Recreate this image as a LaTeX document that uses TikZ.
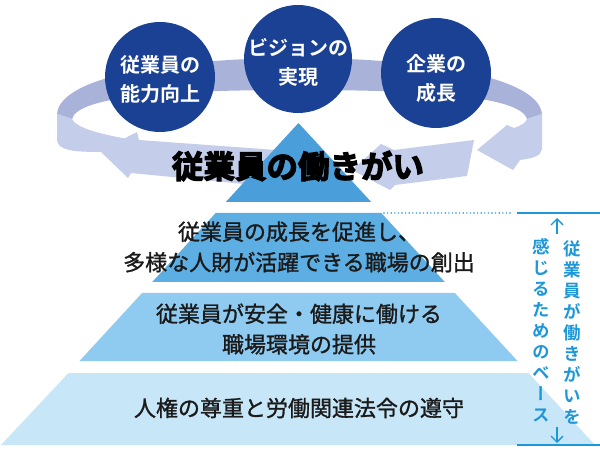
\documentclass[tikz,border=0pt]{standalone}
\usepackage{fontspec}
\setmainfont{Noto Sans CJK JP}
\newfontfamily\jp{Noto Sans CJK JP}[FakeBold=1.2]
\newfontfamily\jpb{Noto Sans CJK JP Bold}
\newfontfamily\jpheavy{Noto Sans CJK JP Bold}[FakeBold=4]
\newfontfamily\jpv{Noto Sans CJK JP Bold}[RawFeature=+vert]
\usetikzlibrary{arrows.meta}
\definecolor{circ}{HTML}{1B4194}
\definecolor{ringB}{HTML}{A9B3D9}
\definecolor{ringF}{HTML}{C4CEEB}
\definecolor{pyr1}{HTML}{4A9FDA}
\definecolor{pyr2}{HTML}{5CAEE3}
\definecolor{pyr3}{HTML}{8FCBF0}
\definecolor{pyr4}{HTML}{C7E6F8}
\definecolor{cyanT}{HTML}{1E97D9}
\definecolor{ink}{HTML}{1A1A1A}
\tikzset{
  ringback/.style={fill=ringB},
  ringfront/.style={fill=ringF},
  bubble/.style={circle, fill=circ, inner sep=0pt, minimum size=110pt},
  bubbletext/.style={text=white, font=\jpb\fontsize{20}{29}\selectfont, align=center, inner sep=0pt},
  tiertext/.style={text=ink, font=\jp\fontsize{22}{30.5}\selectfont, align=center, inner sep=0pt},
  vtext/.style={text=cyanT, font=\jpv\fontsize{17.5}{21}\selectfont, align=center, inner sep=0pt},
  guide/.style={draw=cyanT, line width=1.3pt},
}
\begin{document}
\begin{tikzpicture}[x=1pt,y=-1pt]
\useasboundingbox[fill=white] (0,0) rectangle (600,449);
% ring: back band
\fill[ringback] (57,114) .. controls (60,75) and (180,58) .. (298,58) .. controls (416,58) and (538,75) .. (542,114) -- (527,119) .. controls (520,95) and (416,90) .. (298,90) .. controls (180,90) and (78,95) .. (72,119) -- cycle;
% ring: left front strip
\fill[ringfront] (57,114) -- (57,140) .. controls (58,149) and (68,152) .. (100,152) -- (128,139) .. controls (100,134) and (76,128) .. (72,119) -- cycle;
% ring: right end with arrowhead
\fill[ringfront] (542,114) -- (542,149) .. controls (541,156) and (534,158) .. (520,160) -- (513,170) -- (477,150) -- (507,125) -- (514,128) .. controls (520,126) and (526,123) .. (527,119) -- cycle;
% circles
\node[bubble] (c1) at (160,77) {};
\node[bubble, minimum size=108pt] (c2) at (298,59) {};
\node[bubble] (c3) at (436,73) {};
\node[bubbletext] (t1) at (160,79) {従業員の\\能力向上};
\node[bubbletext] (t2) at (298,62) {ビジョンの\\実現};
\node[bubbletext] (t3) at (436,78) {企業の\\成長};
% ring: front arrows
\fill[ringfront] (474,140) -- (394,150) -- (381,144) -- (352,170) -- (390,190) -- (395,185) -- (467,176) -- cycle;
\fill[ringfront] (276,150) -- (139,140) -- (137,132) -- (100,151) -- (128,178) -- (131,173) -- (244,184) -- cycle;
% pyramid
\fill[pyr1] (298.5,123) -- (225.8,202) -- (371.2,202) -- cycle;
\fill[pyr2] (215.7,213) -- (381.3,213) -- (444.8,282) -- (152.2,282) -- cycle;
\fill[pyr3] (142.1,293) -- (454.9,293) -- (517.5,361) -- (79.5,361) -- cycle;
\fill[pyr4] (68.5,373) -- (528.5,373) -- (595,445) -- (1,445) -- cycle;
% headline
\node[text=black, font=\jpheavy\fontsize{31.5}{32}\selectfont, inner sep=0pt] (head) at (298,166) {従業員の働きがい};
% tier texts
\node[tiertext] (l2) at (299,247) {従業員の成長を促進し、\\多様な人財が活躍できる職場の創出};
\node[tiertext] (l3) at (299,329) {従業員が安全・健康に働ける\\職場環境の提供};
\node[tiertext] (l4) at (299,408) {人権の尊重と労働関連法令の遵守};
% guides
\coordinate (d1) at (384,213);
\coordinate (d2) at (513,213);
\coordinate (s1) at (517,213);
\coordinate (s2) at (600,213);
\coordinate (b1) at (517,445);
\coordinate (b2) at (600,445);
\coordinate (ua) at (557,234);
\coordinate (ub) at (557,218);
\coordinate (da) at (557,427);
\coordinate (db) at (557,443);
\draw[cyanT, line width=1.6pt, line cap=round, dash pattern=on 0pt off 3.6pt] (d1) -- (d2);
\draw[guide] (s1) -- (s2);
\draw[guide] (b1) -- (b2);
\draw[guide, -{Straight Barb[length=6pt,width=12pt]}] (ua) -- (ub);
\draw[guide, -{Straight Barb[length=6pt,width=12pt]}] (da) -- (db);
% vertical text
\node[vtext] (v1) at (572,332) {従\\業\\員\\が\\働\\き\\が\\い\\を};
\node[vtext] (v2) at (541,330) {感\\じ\\る\\た\\め\\の\\ベ\\ー\\ス};
\end{tikzpicture}
\end{document}
